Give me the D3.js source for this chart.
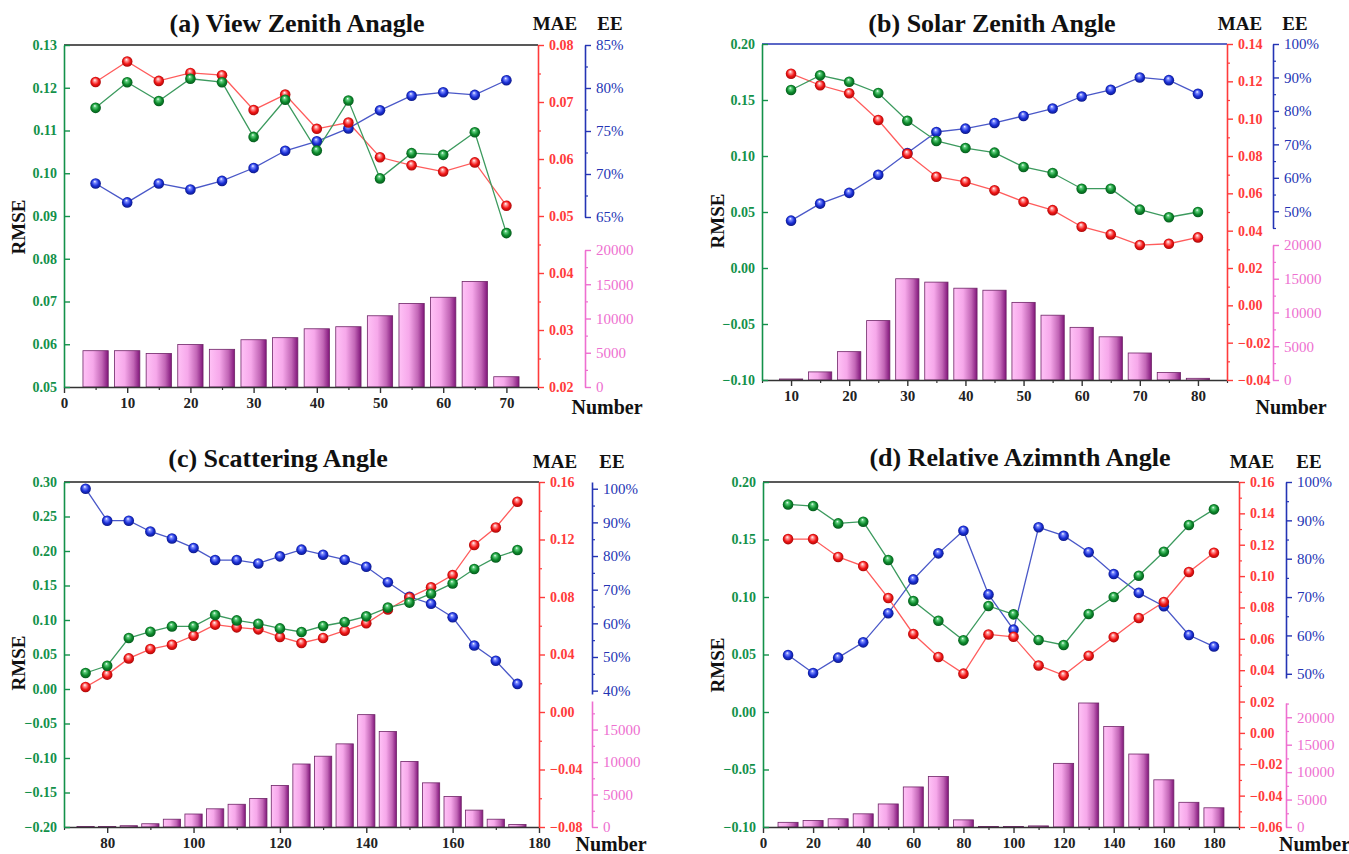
<!DOCTYPE html>
<html>
<head>
<meta charset="utf-8">
<script src="https://cdn.jsdelivr.net/npm/d3@7"></script>
<style>
  html, body { margin: 0; padding: 0; background: #fff; }
  svg { display: block; }
  svg text { font-family: "Liberation Serif", "Times New Roman", serif; }
</style>
</head>
<body>
<svg id="chart" width="1349" height="854"></svg>
<script>
// ---- (a) View zenith angle ----
const vzaAngles = [5, 10, 15, 20, 25, 30, 35, 40, 45, 50, 55, 60, 65, 70];
const vzaRmse   = [0.1153, 0.1213, 0.1169, 0.1221, 0.1213, 0.1085, 0.1172, 0.1053, 0.1170, 0.0988, 0.1047, 0.1043, 0.1096, 0.0860];
const vzaMae    = [0.0735, 0.0771, 0.0737, 0.0751, 0.0747, 0.0686, 0.0713, 0.0653, 0.0664, 0.0603, 0.0589, 0.0578, 0.0594, 0.0518];
const vzaEe     = [68.9, 66.7, 68.9, 68.2, 69.2, 70.7, 72.7, 73.8, 75.3, 77.4, 79.1, 79.5, 79.2, 80.9];
const vzaCount  = [5300, 5300, 4900, 6200, 5500, 6900, 7200, 8500, 8800, 10400, 12200, 13100, 15400, 1500];

// ---- (b) Solar zenith angle ----
const szaAngles = [10, 15, 20, 25, 30, 35, 40, 45, 50, 55, 60, 65, 70, 75, 80];
const szaRmse   = [0.1589, 0.1720, 0.1663, 0.1563, 0.1315, 0.1134, 0.1071, 0.1030, 0.0902, 0.0848, 0.0708, 0.0708, 0.0521, 0.0453, 0.0500];
const szaMae    = [0.1241, 0.1179, 0.1136, 0.0993, 0.0812, 0.0689, 0.0662, 0.0616, 0.0555, 0.0510, 0.0421, 0.0380, 0.0323, 0.0330, 0.0364];
const szaEe     = [47.2, 52.3, 55.5, 60.9, 67.4, 73.7, 74.7, 76.4, 78.5, 80.7, 84.3, 86.3, 90.0, 89.2, 85.1];
const szaCount  = [150, 1200, 4200, 8800, 15000, 14500, 13600, 13300, 11500, 9600, 7800, 6400, 4000, 1100, 250];

// ---- (c) Scattering angle ----
const scaAngles = [75, 80, 85, 90, 95, 100, 105, 110, 115, 120, 125, 130, 135, 140, 145, 150, 155, 160, 165, 170, 175];
const scaRmse   = [0.0232, 0.0337, 0.0739, 0.0830, 0.0907, 0.0907, 0.1072, 0.0994, 0.0946, 0.0878, 0.0826, 0.0913, 0.0971, 0.1053, 0.1180, 0.1252, 0.1381, 0.1530, 0.1739, 0.1907, 0.2014];
const scaMae    = [0.0174, 0.0260, 0.0373, 0.0438, 0.0468, 0.0531, 0.0608, 0.0589, 0.0575, 0.0522, 0.0480, 0.0515, 0.0566, 0.0617, 0.0713, 0.0797, 0.0867, 0.0953, 0.1162, 0.1284, 0.1463];
const scaEe     = [100.0, 90.5, 90.5, 87.3, 85.2, 82.4, 78.8, 78.8, 77.8, 79.9, 81.9, 80.4, 78.9, 76.8, 72.2, 67.9, 65.8, 61.8, 53.4, 48.9, 42.0];
const scaCount  = [80, 80, 200, 500, 1200, 2000, 2800, 3500, 4400, 6400, 9700, 10900, 12800, 17300, 14700, 10100, 6800, 4700, 2600, 1200, 400];

// ---- (d) Relative azimuth angle ----
const raaAngles = [10, 20, 30, 40, 50, 60, 70, 80, 90, 100, 110, 120, 130, 140, 150, 160, 170, 180];
const raaRmse   = [0.1805, 0.1791, 0.1640, 0.1655, 0.1322, 0.0965, 0.0794, 0.0623, 0.0922, 0.0849, 0.0626, 0.0583, 0.0852, 0.1000, 0.1185, 0.1394, 0.1626, 0.1762];
const raaMae    = [0.1236, 0.1236, 0.1122, 0.1064, 0.0860, 0.0631, 0.0484, 0.0378, 0.0628, 0.0613, 0.0430, 0.0367, 0.0492, 0.0611, 0.0733, 0.0835, 0.1026, 0.1149];
const raaEe     = [54.9, 50.2, 54.2, 58.2, 65.8, 74.6, 81.4, 87.3, 70.7, 61.5, 88.2, 86.0, 81.7, 76.0, 71.1, 67.6, 60.1, 57.1];
const raaCount  = [850, 1200, 1500, 2400, 4200, 7300, 9200, 1300, 100, 100, 200, 11600, 22600, 18300, 13300, 8600, 4500, 3500];

// ---- axis tick values ----
const vzaXTicks = [0, 10, 20, 30, 40, 50, 60, 70];
const szaXTicks = [10, 20, 30, 40, 50, 60, 70, 80];
const scaXTicks = [80, 100, 120, 140, 160, 180];
const raaXTicks = [0, 20, 40, 60, 80, 100, 120, 140, 160, 180];

const vzaRmseTicks = [0.05, 0.06, 0.07, 0.08, 0.09, 0.10, 0.11, 0.12, 0.13];
const szaRmseTicks = [-0.10, -0.05, 0.00, 0.05, 0.10, 0.15, 0.20];
const scaRmseTicks = [-0.20, -0.15, -0.10, -0.05, 0.00, 0.05, 0.10, 0.15, 0.20, 0.25, 0.30];
const raaRmseTicks = [-0.10, -0.05, 0.00, 0.05, 0.10, 0.15, 0.20];

const vzaMaeTicks = [0.02, 0.03, 0.04, 0.05, 0.06, 0.07, 0.08];
const szaMaeTicks = [-0.04, -0.02, 0.00, 0.02, 0.04, 0.06, 0.08, 0.10, 0.12, 0.14];
const scaMaeTicks = [-0.08, -0.04, 0.00, 0.04, 0.08, 0.12, 0.16];
const raaMaeTicks = [-0.06, -0.04, -0.02, 0.00, 0.02, 0.04, 0.06, 0.08, 0.10, 0.12, 0.14, 0.16];

const vzaEeTicks = [65, 70, 75, 80, 85];
const szaEeTicks = [50, 60, 70, 80, 90, 100];
const scaEeTicks = [40, 50, 60, 70, 80, 90, 100];
const raaEeTicks = [50, 60, 70, 80, 90, 100];

const vzaCountTicks = [0, 5000, 10000, 15000, 20000];
const szaCountTicks = [0, 5000, 10000, 15000, 20000];
const scaCountTicks = [0, 5000, 10000, 15000];
const raaCountTicks = [0, 5000, 10000, 15000, 20000];

// ---- colours ----
const C = {
  green: "#13914a", greenLine: "#3c9a5e",
  red: "#ff3b3b", redLine: "#ff5c5c",
  blue: "#2434b4", blueLine: "#4a58c8",
  pink: "#ee6fd0", black: "#222"
};
const SERIF = '"Liberation Serif", "Times New Roman", serif';

// ---- panel layouts ----
const panels = [
  { title: "(a) View Zenith Anagle", x: vzaAngles, rmse: vzaRmse, mae: vzaMae, ee: vzaEe, count: vzaCount,
    xTicks: vzaXTicks, xMinorStep: 5, xDomain: [0, 75], binWidth: 5,
    rmseTicks: vzaRmseTicks, rmseDomain: [0.05, 0.13],
    maeTicks: vzaMaeTicks, maeDomain: [0.02, 0.08], maeMinorStep: 0.005,
    eeTicks: vzaEeTicks, eeDomain: [65, 85], eeMinorStep: 2.5,
    countTicks: vzaCountTicks, countDomain: [0, 20000], countMinorStep: 2500,
    L: 64, R: 538, T: 45, B: 387, eeX: 585, eeT: 45, eeB: 217, cT: 250, cB: 387,
    frameTop: C.black,
    titleX: 297, titleY: 32, maeX: 555, eeLX: 610, headY: 30, numX: 607, numY: 414, numAnchor: "middle",
    rmseX: 18, rmseY: 227 },
  { title: "(b) Solar Zenith Angle", x: szaAngles, rmse: szaRmse, mae: szaMae, ee: szaEe, count: szaCount,
    xTicks: szaXTicks, xMinorStep: 5, xDomain: [5, 85], binWidth: 5,
    rmseTicks: szaRmseTicks, rmseDomain: [-0.10, 0.20],
    maeTicks: szaMaeTicks, maeDomain: [-0.04, 0.14], maeMinorStep: 0.01,
    eeTicks: szaEeTicks, eeDomain: [45, 100], eeMinorStep: 5,
    countTicks: szaCountTicks, countDomain: [0, 20000], countMinorStep: 2500,
    L: 762, R: 1227, T: 44, B: 380, eeX: 1273, eeT: 44, eeB: 228, cT: 245, cB: 380,
    frameTop: C.blue,
    titleX: 992, titleY: 32, maeX: 1240, eeLX: 1295, headY: 30, numX: 1291, numY: 414, numAnchor: "middle",
    rmseX: 717, rmseY: 221 },
  { title: "(c) Scattering Angle", x: scaAngles, rmse: scaRmse, mae: scaMae, ee: scaEe, count: scaCount,
    xTicks: scaXTicks, xMinorStep: 10, xDomain: [70, 180], binWidth: 5,
    rmseTicks: scaRmseTicks, rmseDomain: [-0.20, 0.30],
    maeTicks: scaMaeTicks, maeDomain: [-0.08, 0.16], maeMinorStep: 0.02,
    eeTicks: scaEeTicks, eeDomain: [39, 102], eeMinorStep: 5,
    countTicks: scaCountTicks, countDomain: [0, 19400], countMinorStep: 2500,
    L: 64, R: 539, T: 482, B: 827, eeX: 592, eeT: 482, eeB: 694, cT: 701, cB: 827,
    frameTop: C.black,
    titleX: 278, titleY: 467, maeX: 555, eeLX: 612, headY: 468, numX: 611, numY: 851, numAnchor: "middle",
    rmseX: 18, rmseY: 663 },
  { title: "(d) Relative Azimnth Angle", x: raaAngles, rmse: raaRmse, mae: raaMae, ee: raaEe, count: raaCount,
    xTicks: raaXTicks, xMinorStep: 10, xDomain: [0, 190], binWidth: 10,
    rmseTicks: raaRmseTicks, rmseDomain: [-0.10, 0.20],
    maeTicks: raaMaeTicks, maeDomain: [-0.06, 0.16], maeMinorStep: 0.01,
    eeTicks: raaEeTicks, eeDomain: [48.9, 100], eeMinorStep: 5,
    countTicks: raaCountTicks, countDomain: [0, 22600], countMinorStep: 2500,
    L: 763, R: 1239, T: 482, B: 827, eeX: 1286, eeT: 482, eeB: 678, cT: 703, cB: 827,
    frameTop: C.black,
    titleX: 1020, titleY: 466, maeX: 1252, eeLX: 1309, headY: 468, numX: 1279, numY: 851, numAnchor: "start",
    rmseX: 717, rmseY: 665 }
];

const svg = d3.select("#chart");
const defs = svg.append("defs");

// shaded ball markers
function ballGradient(id, light, base, dark) {
  const g = defs.append("radialGradient").attr("id", id)
    .attr("cx", "50%").attr("cy", "50%").attr("r", "55%")
    .attr("fx", "42%").attr("fy", "30%");
  g.append("stop").attr("offset", "0%").attr("stop-color", "#ffffff");
  g.append("stop").attr("offset", "22%").attr("stop-color", light);
  g.append("stop").attr("offset", "60%").attr("stop-color", base);
  g.append("stop").attr("offset", "100%").attr("stop-color", dark);
}
ballGradient("ball-green", "#5fcf7e", "#0d8a2c", "#04501a");
ballGradient("ball-red", "#ff9a9a", "#f21616", "#9a0606");
ballGradient("ball-blue", "#7d8cff", "#1a2fd6", "#0a1478");

// bars: light pink to deep purple across each bar
const barGrad = defs.append("linearGradient").attr("id", "bar-grad")
  .attr("x1", "0%").attr("x2", "100%").attr("y1", "0%").attr("y2", "0%");
barGrad.append("stop").attr("offset", "0%").attr("stop-color", "#ffc2f6");
barGrad.append("stop").attr("offset", "40%").attr("stop-color", "#f6a8ea");
barGrad.append("stop").attr("offset", "75%").attr("stop-color", "#c266b6");
barGrad.append("stop").attr("offset", "100%").attr("stop-color", "#80157a");

function minorValues(domain, step, majors) {
  const out = [];
  const start = Math.ceil((domain[0] - 1e-9) / step) * step;
  for (let v = start; v <= domain[1] + 1e-9; v += step) {
    if (!majors.some(m => Math.abs(m - v) < step * 1e-3)) out.push(+v.toFixed(6));
  }
  return out;
}

function styleAxis(g, color, weight, size) {
  g.attr("font-family", null).attr("font-size", null);
  g.selectAll("path.domain").attr("stroke", color).attr("stroke-width", 1.6);
  g.selectAll(".tick line").attr("stroke", color).attr("stroke-width", 1.4);
  g.selectAll(".tick text").attr("fill", color)
    .style("font-family", SERIF)
    .style("font-weight", weight).style("font-size", size + "px");
}

function drawPanel(p) {
  const g = svg.append("g");
  const x = d3.scaleLinear().domain(p.xDomain).range([p.L, p.R]);
  const yR = d3.scaleLinear().domain(p.rmseDomain).range([p.B, p.T]);
  const yM = d3.scaleLinear().domain(p.maeDomain).range([p.B, p.T]);
  const yE = d3.scaleLinear().domain(p.eeDomain).range([p.eeB, p.eeT]);
  const yC = d3.scaleLinear().domain(p.countDomain).range([p.cB, p.cT]);

  // bars (sample number)
  const bw = (x(p.binWidth) - x(0)) * 0.8;
  g.append("g").selectAll("rect").data(p.x.map((v, i) => ({ a: v, n: p.count[i] })))
    .join("rect")
    .attr("x", d => x(d.a) - bw / 2)
    .attr("y", d => yC(d.n))
    .attr("width", bw)
    .attr("height", d => Math.max(0.8, yC(0) - yC(d.n)))
    .attr("fill", "url(#bar-grad)")
    .attr("stroke", "#6e2466").attr("stroke-width", 0.8);

  // top frame line
  g.append("line").attr("x1", p.L).attr("x2", p.R).attr("y1", p.T).attr("y2", p.T)
    .attr("stroke", p.frameTop).attr("stroke-width", 1.6);

  // x axis
  const xa = g.append("g").attr("transform", `translate(0,${p.B})`)
    .call(d3.axisBottom(x).tickValues(p.xTicks).tickSize(6).tickSizeOuter(0).tickPadding(4).tickFormat(d3.format("d")));
  styleAxis(xa, C.black, "bold", 15);
  xa.selectAll("path.domain").attr("stroke", "#333");
  xa.selectAll(".tick line").attr("stroke", "#333");
  const xm = g.append("g").attr("transform", `translate(0,${p.B})`)
    .call(d3.axisBottom(x).tickValues(minorValues(p.xDomain, p.xMinorStep, p.xTicks)).tickSize(3).tickFormat(""));
  xm.select("path.domain").remove();
  xm.selectAll(".tick line").attr("stroke", "#333").attr("stroke-width", 1.2);

  // RMSE axis (left, ticks inward)
  const ra = g.append("g").attr("transform", `translate(${p.L},0)`)
    .call(d3.axisLeft(yR).tickValues(p.rmseTicks).tickSize(-6).tickSizeOuter(0).tickPadding(7).tickFormat(d3.format(".2f")));
  styleAxis(ra, C.green, "bold", 14);

  // MAE axis (right)
  const ma = g.append("g").attr("transform", `translate(${p.R},0)`)
    .call(d3.axisRight(yM).tickValues(p.maeTicks).tickSize(6).tickSizeOuter(0).tickPadding(5).tickFormat(d3.format(".2f")));
  styleAxis(ma, C.red, "bold", 14);
  const mm = g.append("g").attr("transform", `translate(${p.R},0)`)
    .call(d3.axisRight(yM).tickValues(minorValues(p.maeDomain, p.maeMinorStep, p.maeTicks)).tickSize(3).tickFormat(""));
  mm.select("path.domain").remove();
  mm.selectAll(".tick line").attr("stroke", C.red).attr("stroke-width", 1.2);

  // EE axis
  const ea = g.append("g").attr("transform", `translate(${p.eeX},0)`)
    .call(d3.axisRight(yE).tickValues(p.eeTicks).tickSize(6).tickSizeOuter(0).tickPadding(5).tickFormat(d => d + "%"));
  styleAxis(ea, C.blue, "normal", 15);
  const em = g.append("g").attr("transform", `translate(${p.eeX},0)`)
    .call(d3.axisRight(yE).tickValues(minorValues(p.eeDomain, p.eeMinorStep, p.eeTicks)).tickSize(3).tickFormat(""));
  em.select("path.domain").remove();
  em.selectAll(".tick line").attr("stroke", C.blue).attr("stroke-width", 1.2);

  // Number axis
  const ca = g.append("g").attr("transform", `translate(${p.eeX},0)`)
    .call(d3.axisRight(yC).tickValues(p.countTicks).tickSize(6).tickSizeOuter(0).tickPadding(5).tickFormat(d3.format("d")));
  styleAxis(ca, C.pink, "normal", 15);
  const cm = g.append("g").attr("transform", `translate(${p.eeX},0)`)
    .call(d3.axisRight(yC).tickValues(minorValues(p.countDomain, p.countMinorStep, p.countTicks)).tickSize(3).tickFormat(""));
  cm.select("path.domain").remove();
  cm.selectAll(".tick line").attr("stroke", C.pink).attr("stroke-width", 1.2);

  // series lines and ball markers
  const series = [
    { vals: p.ee, y: yE, line: C.blueLine, ball: "ball-blue" },
    { vals: p.mae, y: yM, line: C.redLine, ball: "ball-red" },
    { vals: p.rmse, y: yR, line: C.greenLine, ball: "ball-green" }
  ];
  series.forEach(s => {
    const pts = p.x.map((a, i) => [a, s.vals[i]]);
    g.append("path").datum(pts)
      .attr("d", d3.line().x(d => x(d[0])).y(d => s.y(d[1])))
      .attr("fill", "none").attr("stroke", s.line).attr("stroke-width", 1.3);
  });
  series.forEach(s => {
    const pts = p.x.map((a, i) => [a, s.vals[i]]);
    g.append("g").selectAll("circle").data(pts).join("circle")
      .attr("cx", d => x(d[0])).attr("cy", d => s.y(d[1])).attr("r", 5.3)
      .attr("fill", `url(#${s.ball})`);
  });

  // titles and axis names
  const txt = (t, xx, yy, size, anchor) => g.append("text").text(t)
    .attr("x", xx).attr("y", yy).style("font-size", size + "px").style("font-weight", "bold")
    .attr("text-anchor", anchor).attr("fill", "#111");
  txt(p.title, p.titleX, p.titleY, 26, "middle");
  txt("MAE", p.maeX, p.headY, 19, "middle");
  txt("EE", p.eeLX, p.headY, 19, "middle");
  txt("Number", p.numX, p.numY, 20, p.numAnchor);
  g.append("text").text("RMSE")
    .attr("transform", `translate(${p.rmseX + 7},${p.rmseY}) rotate(-90)`)
    .style("font-size", "19px").style("font-weight", "bold").attr("text-anchor", "middle").attr("fill", "#111");
}

panels.forEach(drawPanel);
</script>
</body>
</html>
